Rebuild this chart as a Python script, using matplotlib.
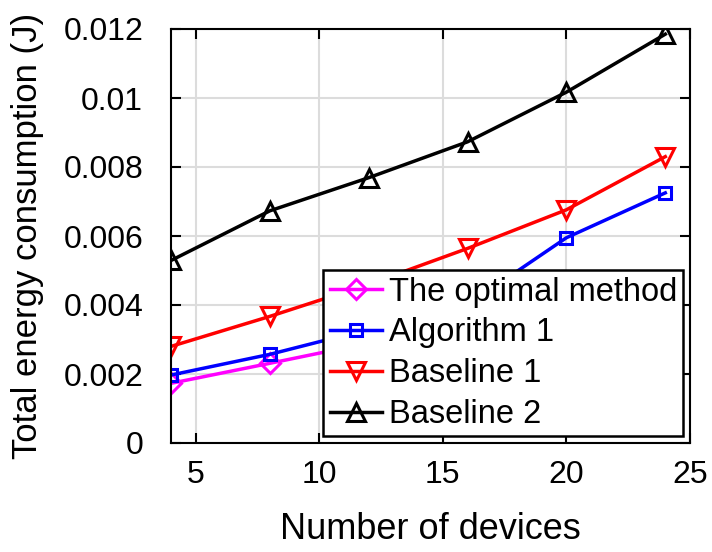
import numpy as np
import matplotlib.pyplot as plt

plt.rcParams['font.family'] = ['Liberation Sans', 'DejaVu Sans']

# number of devices
devices = [4, 8, 12, 16, 20, 24]

# total energy consumption (J)
optimal = [0.00173, 0.00231, 0.0029, 0.0035, 0.0041, 0.0046]
algorithm1 = [0.00197, 0.00257, 0.0033, 0.0040, 0.00595, 0.00725]
baseline1 = [0.0028, 0.00367, 0.0046, 0.00564, 0.00676, 0.0083]
baseline2 = [0.00529, 0.00673, 0.00769, 0.00873, 0.01017, 0.01185]

x_ticks = [5, 10, 15, 20, 25]
y_ticks = [0, 0.002, 0.004, 0.006, 0.008, 0.01, 0.012]
y_tick_labels = ['0', '0.002', '0.004', '0.006', '0.008', '0.01', '0.012']

fig = plt.figure(figsize=(7.12, 5.52), dpi=100)
ax = fig.add_axes([171 / 712, 1 - 443 / 552, 519 / 712, 414 / 552])

style = dict(linewidth=2.5, markersize=13, markeredgewidth=2.2,
             markerfacecolor='none')
ax.plot(devices, optimal, color='#ff00ff', marker='D', markersize=10,
        linewidth=2.5, markeredgewidth=2.2, markerfacecolor='none',
        label='The optimal method')
ax.plot(devices, algorithm1, color='#0000ff', marker='s', markersize=9,
        linewidth=2.5, markeredgewidth=2.2, markerfacecolor='none',
        label='Algorithm 1')
ax.plot(devices, baseline1, color='#ff0000', marker='v', label='Baseline 1',
        **style)
ax.plot(devices, baseline2, color='black', marker='^', label='Baseline 2',
        **style)

ax.set_xlim(4, 25)
ax.set_ylim(0, 0.012)
ax.set_xticks(x_ticks)
ax.set_yticks(y_ticks)
ax.set_yticklabels(y_tick_labels)
ax.tick_params(direction='in', top=True, right=True, labelsize=23,
               length=7, width=1.5)
ax.tick_params(axis='y', pad=20)
ax.tick_params(axis='x', pad=12)
ax.grid(True, color='#dcdcdc', linewidth=1.5)
ax.set_axisbelow(True)
for s in ax.spines.values():
    s.set_linewidth(1.5)

ax.set_xlabel('Number of devices', fontsize=26, labelpad=16)
ax.set_ylabel('Total energy consumption (J)', fontsize=25, labelpad=14)

leg = ax.legend(loc='lower right', fontsize=23.5, frameon=True,
                fancybox=False, edgecolor='black', framealpha=1,
                borderpad=0.2, labelspacing=0.3, handlelength=1.6,
                handletextpad=0.2, borderaxespad=0.2)
leg.get_frame().set_linewidth(1.8)

fig.savefig('out.png', dpi=100)
